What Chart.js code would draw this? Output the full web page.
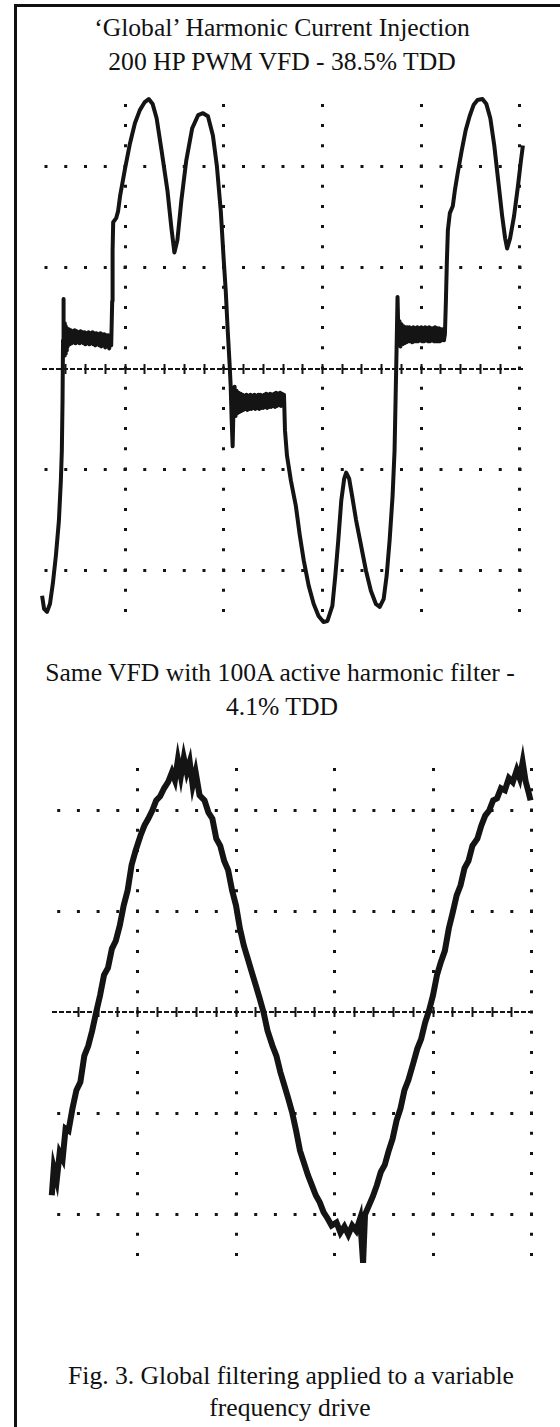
<!DOCTYPE html>
<html>
<head>
<meta charset="utf-8">
<script src="https://cdn.jsdelivr.net/npm/chart.js@4.4.1/dist/chart.umd.min.js"></script>
<style>
  body { margin: 0; background: #fff; }
  #page { position: relative; width: 560px; height: 1427px; overflow: hidden; background: #fff; }
  .frame { position: absolute; left: 14px; top: 4px; right: -10px; bottom: -10px; border-left: 3px solid #111; border-top: 3px solid #111; }
  .txt { position: absolute; font-family: "Liberation Serif", Tinos, "Times New Roman", Times, "Nimbus Roman", "Nimbus Roman No9 L", FreeSerif, "DejaVu Serif", "Noto Serif", "Bitstream Vera Serif", serif; font-size: 25.5px; line-height: 25.5px; color: #111; white-space: nowrap; transform: translateX(-50%); }
  canvas { position: absolute; left: 0; }
</style>
</head>
<body>
<div id="page">
  <div class="frame"></div>
  <div class="txt" style="left:282px; top:15px">‘Global’ Harmonic Current Injection</div>
  <div class="txt" style="left:282px; top:49px">200 HP PWM VFD - 38.5% TDD</div>
  <div class="txt" id="widest" style="left:280px; top:660px">Same VFD with 100A active harmonic filter -</div>
  <div class="txt" style="left:282px; top:694px">4.1% TDD</div>
  <div class="txt" style="left:291px; top:1363px">Fig. 3. Global filtering applied to a variable</div>
  <div class="txt" style="left:290px; top:1395px">frequency drive</div>
  <canvas id="vfd" width="560" height="570" style="top:80px"></canvas>
  <canvas id="filtered" width="560" height="550" style="top:740px"></canvas>
</div>
<script>
// graticule divisions (time and current both in scope divisions)
const gridDivX = [1, 2, 3, 4, 5];
const gridDivY = [-2, -1, 0, 1, 2];

// top trace: VFD alone, 38.5% TDD
const vfdTime = [
  0.16, 0.18, 0.21, 0.24, 0.27, 0.30, 0.33, 0.35, 0.36, 0.367, 0.372, 0.375,
  // first positive step
  0.38, 0.385, 0.39, 0.395, 0.40, 0.405, 0.41,
  0.42, 0.43, 0.44, 0.45, 0.46, 0.47, 0.48, 0.49, 0.50, 0.51,
  0.52, 0.53, 0.54, 0.55, 0.56, 0.57, 0.58, 0.59, 0.60, 0.61,
  0.62, 0.63, 0.64, 0.65, 0.66, 0.67, 0.68, 0.69, 0.70, 0.71,
  0.72, 0.73, 0.74, 0.75, 0.76, 0.77, 0.78, 0.79, 0.80, 0.81,
  0.82, 0.83, 0.84, 0.85, 0.86,
  // double hump
  0.87, 0.874, 0.88, 0.91, 0.93, 0.95, 1.00, 1.05, 1.10, 1.15,
  1.20, 1.24, 1.28, 1.32, 1.37, 1.43, 1.47, 1.50, 1.53, 1.57,
  1.62, 1.68, 1.74, 1.79, 1.84, 1.89, 1.93, 1.97, 2.00, 2.02,
  2.04, 2.06, 2.07, 2.08, 2.09,
  // negative step
  2.10, 2.11, 2.12,
  2.13, 2.14, 2.15, 2.16, 2.17, 2.18, 2.19, 2.20, 2.21, 2.22,
  2.23, 2.24, 2.25, 2.26, 2.27, 2.28, 2.29, 2.30, 2.31, 2.32,
  2.33, 2.34, 2.35, 2.36, 2.37, 2.38, 2.39, 2.40, 2.41, 2.42,
  2.43, 2.44, 2.45, 2.46, 2.47, 2.48, 2.49, 2.50, 2.51, 2.52,
  2.53, 2.54, 2.55, 2.56, 2.57, 2.58, 2.59, 2.60, 2.61,
  // double trough
  2.62, 2.64, 2.68, 2.73, 2.77, 2.81, 2.86, 2.91, 2.96, 3.01,
  3.05, 3.10, 3.13, 3.16, 3.19, 3.22, 3.24, 3.27, 3.30, 3.34,
  3.39, 3.44, 3.49, 3.54, 3.58, 3.62, 3.65, 3.68, 3.71, 3.73,
  3.74, 3.75, 3.76,
  // second positive step
  3.77, 3.78, 3.79, 3.80, 3.81, 3.82, 3.83, 3.84, 3.85, 3.86,
  3.87, 3.88, 3.89, 3.90, 3.91, 3.92, 3.93, 3.94, 3.95, 3.96,
  3.97, 3.98, 3.99, 4.00, 4.01, 4.02, 4.03, 4.04, 4.05, 4.06,
  4.07, 4.08, 4.09, 4.10, 4.11, 4.12, 4.13, 4.14, 4.15, 4.16,
  4.17, 4.18, 4.19, 4.20, 4.21, 4.22, 4.23, 4.24,
  // next hump
  4.25, 4.26, 4.27, 4.29, 4.32, 4.34, 4.37, 4.41, 4.45, 4.49,
  4.53, 4.57, 4.62, 4.66, 4.70, 4.74, 4.78, 4.82, 4.85, 4.87,
  4.90, 4.94, 4.98, 5.01, 5.03
];
const vfdCurrent = [
  -2.25, -2.38, -2.41, -2.33, -2.12, -1.85, -1.51, -1.11, -0.81, -0.32, 0.28, 0.69,
  0.38, 0.13, 0.45, 0.15, 0.42, 0.18, 0.40,
  0.22, 0.39, 0.24, 0.38, 0.25, 0.37, 0.26, 0.38, 0.25, 0.37,
  0.26, 0.36, 0.25, 0.37, 0.26, 0.36, 0.25, 0.36, 0.24, 0.35,
  0.25, 0.36, 0.24, 0.35, 0.25, 0.36, 0.24, 0.35, 0.23, 0.35,
  0.24, 0.34, 0.23, 0.35, 0.22, 0.34, 0.23, 0.34, 0.21, 0.33,
  0.22, 0.33, 0.20, 0.32, 0.23,
  0.67, 1.17, 1.45, 1.49, 1.56, 1.71, 1.98, 2.23, 2.43, 2.56,
  2.64, 2.67, 2.62, 2.48, 2.16, 1.76, 1.39, 1.15, 1.27, 1.66,
  2.06, 2.38, 2.51, 2.53, 2.50, 2.31, 2.01, 1.56, 1.07, 0.77,
  0.38, 0.03, -0.17, -0.51, -0.77,
  -0.32, -0.18, -0.47,
  -0.22, -0.44, -0.24, -0.43, -0.25, -0.42, -0.26, -0.41, -0.27, -0.40,
  -0.26, -0.41, -0.27, -0.40, -0.26, -0.40, -0.27, -0.39, -0.26, -0.40,
  -0.27, -0.39, -0.26, -0.40, -0.26, -0.39, -0.27, -0.39, -0.26, -0.38,
  -0.25, -0.39, -0.26, -0.38, -0.25, -0.38, -0.26, -0.37, -0.25, -0.38,
  -0.24, -0.37, -0.25, -0.36, -0.24, -0.37, -0.25, -0.36, -0.26,
  -0.61, -0.86, -1.11, -1.36, -1.65, -1.90, -2.15, -2.33, -2.45, -2.51,
  -2.50, -2.35, -2.05, -1.70, -1.31, -1.09, -1.03, -1.09, -1.26, -1.50,
  -1.75, -2.00, -2.20, -2.33, -2.36, -2.28, -2.05, -1.70, -1.26, -0.81,
  -0.32, 0.18, 0.71,
  0.28, 0.47, 0.22, 0.44, 0.24, 0.42, 0.25, 0.41, 0.26, 0.41,
  0.27, 0.41, 0.27, 0.40, 0.26, 0.41, 0.27, 0.40, 0.27, 0.41,
  0.27, 0.40, 0.28, 0.41, 0.27, 0.40, 0.27, 0.41, 0.28, 0.40,
  0.27, 0.41, 0.27, 0.40, 0.28, 0.40, 0.27, 0.41, 0.27, 0.40,
  0.27, 0.40, 0.27, 0.39, 0.28, 0.39, 0.28, 0.34,
  0.67, 1.07, 1.37, 1.54, 1.61, 1.76, 1.94, 2.16, 2.36, 2.50,
  2.61, 2.66, 2.67, 2.62, 2.48, 2.21, 1.86, 1.51, 1.29, 1.19,
  1.29, 1.51, 1.81, 2.06, 2.21
];

// bottom trace: same VFD with 100A active filter, 4.1% TDD
const filtTime = [
  0.13, 0.15, 0.18, 0.21, 0.24, 0.27, 0.30, 0.34, 0.38, 0.42, 0.46, 0.50, 0.54, 0.58,
  0.62, 0.66, 0.70, 0.74, 0.78, 0.82, 0.86, 0.90, 0.94, 0.98, 1.03, 1.07, 1.11, 1.15,
  1.19, 1.23, 1.27, 1.31, 1.35, 1.38, 1.41, 1.44, 1.47, 1.50, 1.53, 1.56, 1.59, 1.63,
  1.68, 1.72, 1.76, 1.80, 1.84, 1.88, 1.92, 1.96, 2.00, 2.04, 2.08, 2.12, 2.16, 2.20,
  2.24, 2.28, 2.32, 2.37, 2.41, 2.45, 2.49, 2.53, 2.57, 2.61, 2.65, 2.69, 2.73, 2.77,
  2.81, 2.85, 2.89, 2.93, 2.97, 3.02, 3.06, 3.10, 3.14, 3.18, 3.22, 3.26, 3.29, 3.31,
  3.35, 3.39, 3.43, 3.47, 3.51, 3.55, 3.59, 3.63, 3.67, 3.71, 3.75, 3.80, 3.84, 3.88,
  3.92, 3.96, 4.00, 4.04, 4.08, 4.12, 4.16, 4.20, 4.24, 4.28, 4.32, 4.36, 4.40, 4.45,
  4.49, 4.53, 4.57, 4.61, 4.65, 4.69, 4.73, 4.77, 4.81, 4.85, 4.88, 4.91, 4.94, 4.97, 4.99
];
const filtCurrent = [
  -1.81, -1.54, -1.66, -1.39, -1.45, -1.15, -1.17, -0.95, -0.77, -0.69, -0.43, -0.33, -0.18, 0.00,
  0.17, 0.37, 0.44, 0.63, 0.71, 0.86, 1.06, 1.21, 1.46, 1.60, 1.75, 1.85, 1.92, 2.00,
  2.10, 2.14, 2.22, 2.28, 2.38, 2.30, 2.50, 2.34, 2.52, 2.38, 2.48, 2.25, 2.38, 2.15,
  2.10, 1.98, 1.92, 1.72, 1.65, 1.50, 1.41, 1.21, 1.06, 0.83, 0.66, 0.53, 0.40, 0.27,
  0.14, 0.00, -0.18, -0.33, -0.43, -0.59, -0.72, -0.85, -0.99, -1.17, -1.37, -1.49, -1.61, -1.71,
  -1.81, -1.88, -1.98, -2.04, -2.11, -2.08, -2.18, -2.12, -2.20, -2.11, -2.16, -2.04, -2.48, -2.00,
  -1.91, -1.82, -1.71, -1.58, -1.51, -1.37, -1.25, -1.07, -0.95, -0.77, -0.67, -0.50, -0.36, -0.26,
  -0.10, 0.02, 0.17, 0.37, 0.50, 0.61, 0.83, 0.99, 1.16, 1.26, 1.43, 1.50, 1.65, 1.72,
  1.85, 1.95, 2.00, 2.10, 2.12, 2.22, 2.20, 2.32, 2.28, 2.40, 2.32, 2.48, 2.29, 2.18, 2.10
];

const ink = '#141414';

// scale the captions so the widest line spans what it does in the figure
(function fitText() {
  const widest = document.getElementById('widest');
  const k = 470 / widest.getBoundingClientRect().width;
  document.querySelectorAll('.txt').forEach(el => {
    const fs = 25.5 * k;
    el.style.fontSize = fs + 'px';
    el.style.lineHeight = fs + 'px';
  });
})();

function traceData(times, values) {
  return times.map((t, i) => ({ x: t, y: values[i] }));
}

// scope-style graticule: dotted lines, dashed centre line with minor ticks
function scopeOptions(s) {
  const isZero = ctx => ctx.tick && ctx.tick.value === 0;
  return {
    responsive: false,
    animation: false,
    layout: { padding: s.pad },
    plugins: { legend: { display: false }, tooltip: { enabled: false }, title: { display: false } },
    scales: {
      x: {
        type: 'linear', min: s.xMin, max: s.xMax,
        afterBuildTicks: sc => { sc.ticks = gridDivX.map(v => ({ value: v })); },
        ticks: { display: false },
        grid: { color: ink, lineWidth: 3, drawTicks: false },
        border: { display: false, dash: [3, s.dotY - 3], dashOffset: s.offY }
      },
      y: {
        type: 'linear', min: s.yMin, max: s.yMax,
        afterBuildTicks: sc => { sc.ticks = gridDivY.map(v => ({ value: v })); },
        ticks: { display: false },
        grid: { color: ink, lineWidth: ctx => isZero(ctx) ? 2 : 3, drawTicks: false },
        border: {
          display: false,
          dash: ctx => isZero(ctx) ? [5, 2] : [3, s.dotX - 3],
          dashOffset: ctx => isZero(ctx) ? 0 : s.offX
        }
      },
      minor: {
        type: 'linear', axis: 'x', min: s.xMin, max: s.xMax, position: { y: s.tickLift },
        afterBuildTicks: sc => {
          sc.ticks = sc.ticks.filter(t => Math.abs(t.value * 5 - Math.round(t.value * 5)) < 0.001);
        },
        ticks: { display: false, stepSize: 0.2 },
        grid: { drawOnChartArea: false, drawTicks: true, tickLength: 10, tickWidth: 2, tickColor: ink },
        border: { display: false }
      }
    }
  };
}

new Chart(document.getElementById('vfd'), {
  type: 'line',
  data: {
    datasets: [{
      data: traceData(vfdTime, vfdCurrent),
      borderColor: ink,
      borderWidth: 4,
      borderJoinStyle: 'round',
      pointRadius: 0,
      tension: 0,
      clip: false
    }]
  },
  options: scopeOptions({
    pad: { left: 42, right: 36, top: 14, bottom: 26 },
    xMin: 0.159, xMax: 5.041, yMin: -2.53, yMax: 2.72,
    dotX: 19.75, offX: 17.25, dotY: 20.2, offY: 10.3, tickLift: 0.05
  })
});

new Chart(document.getElementById('filtered'), {
  type: 'line',
  data: {
    datasets: [{
      data: traceData(filtTime, filtCurrent),
      borderColor: ink,
      borderWidth: 6,
      borderJoinStyle: 'miter',
      pointRadius: 0,
      tension: 0,
      clip: false
    }]
  },
  options: scopeOptions({
    pad: { left: 52, right: 27, top: 20, bottom: 18 },
    xMin: 0.132, xMax: 5.015, yMin: -2.57, yMax: 2.5,
    dotX: 19.7, offX: 14.5, dotY: 20.2, offY: 12.1, tickLift: 0.05
  })
});
</script>
</body>
</html>
